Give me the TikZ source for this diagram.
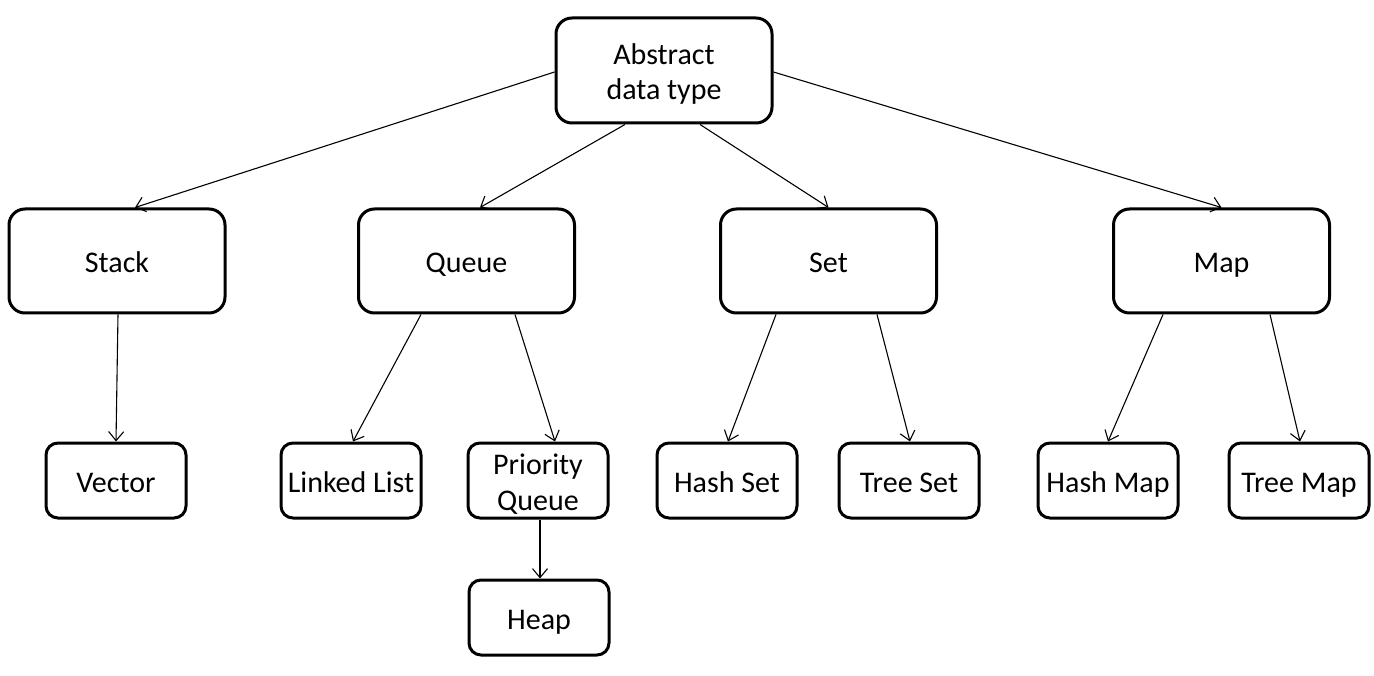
\documentclass[tikz,border=0pt]{standalone}
\usepackage{fontspec}
\setmainfont{Carlito}
\usetikzlibrary{arrows.meta,calc}
\newcommand\lstrut{\rule[-6pt]{0pt}{35pt}}
\begin{document}
\begin{tikzpicture}[x=1pt,y=-1pt,
  bigbox/.style={draw=black,line width=3pt,rounded corners=16pt,minimum width=216pt,minimum height=104pt,inner sep=0pt,align=center,font=\fontsize{30}{35}\selectfont},
  smallbox/.style={draw=black,line width=3pt,rounded corners=12pt,minimum width=140pt,minimum height=75pt,inner sep=0pt,align=center,font=\fontsize{30}{34}\selectfont},
  conn/.style={line width=1.1pt,-{Straight Barb[length=9pt,width=15pt,line width=1.1pt]}}]
\useasboundingbox (0,0) rectangle (1374,676);
\node[bigbox,minimum height=105pt] (adt) at (664,70.5) {\lstrut Abstract\\\lstrut data type};
\node[bigbox] (stack) at (117,261) {\lstrut Stack};
\node[bigbox] (queue) at (466.5,261) {\lstrut Queue};
\node[bigbox] (set) at (828.5,261) {\lstrut Set};
\node[bigbox] (map) at (1221.5,261) {\lstrut Map};
\node[smallbox] (vector) at (116,480.5) {\lstrut Vector};
\node[smallbox] (ll) at (351,480.5) {\lstrut Linked List};
\node[smallbox] (pq) at (538,480.5) {\lstrut Priority\\\lstrut Queue};
\node[smallbox] (hs) at (727,480.5) {\lstrut Hash Set};
\node[smallbox] (ts) at (909,480.5) {\lstrut Tree Set};
\node[smallbox] (hm) at (1108,480.5) {\lstrut Hash Map};
\node[smallbox] (tm) at (1299,480.5) {\lstrut Tree Map};
\node[smallbox] (heap) at (539,617.5) {\lstrut Heap};
\draw[conn] ($(adt.west)+(0,1.5)$) -- ($(stack.north)+(18,0)$);
\draw[conn] ($(adt.south)+(-39,0)$) -- ($(queue.north)+(13.5,0)$);
\draw[conn] ($(adt.south)+(36,0)$) -- (set.north);
\draw[conn] ($(adt.east)+(0,1.5)$) -- (map.north);
\draw[conn] ($(stack.south)+(1,0)$) -- (vector.north);
\draw[conn] ($(queue.south)+(-45.5,0)$) -- ($(ll.north)+(2,0)$);
\draw[conn] ($(queue.south)+(48.5,0)$) -- ($(pq.north)+(17,0)$);
\draw[conn] ($(set.south)+(-52.5,0)$) -- ($(hs.north)+(1,0)$);
\draw[conn] ($(set.south)+(48.5,0)$) -- ($(ts.north)+(1,0)$);
\draw[conn] ($(map.south)+(-58.5,0)$) -- (hm.north);
\draw[conn] ($(map.south)+(48.5,0)$) -- ($(tm.north)+(1,0)$);
\draw[conn] ($(pq.south)+(2,0)$) -- ($(heap.north)+(1,0)$);
\end{tikzpicture}
\end{document}
